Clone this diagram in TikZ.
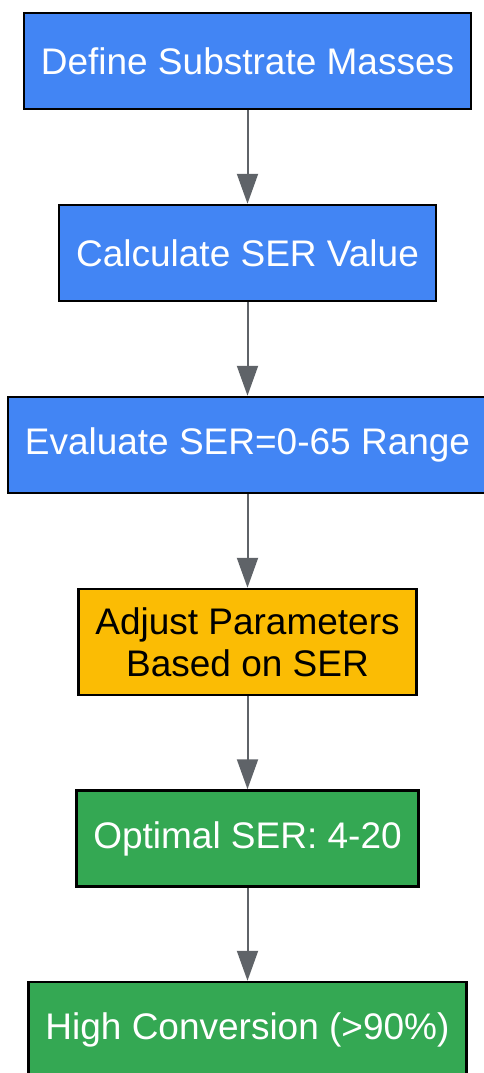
\documentclass[tikz,border=0pt]{standalone}
\usepackage{fontspec}
\setmainfont{Liberation Sans}
\usepackage{xcolor}
\usepackage{tikz}
\usetikzlibrary{arrows.meta}

\definecolor{boxblue}{HTML}{4285F4}
\definecolor{boxyellow}{HTML}{FBBC04}
\definecolor{boxgreen}{HTML}{34A853}
\definecolor{flowgray}{HTML}{5F6368}

\tikzset{
  stepbox/.style={draw=black, line width=2.5pt, inner xsep=17pt, inner ysep=0pt,
    minimum height=96pt, align=center, font=\fontsize{37}{42}\selectfont},
  flow/.style={draw=flowgray, line width=2pt, -{Triangle[length=30pt,width=21pt]}}
}

\begin{document}
\begin{tikzpicture}[x=1pt,y=1pt,yscale=-1,xscale=1]
\useasboundingbox (0,0) rectangle (483,1073);

% Text Node
\node (masses) [stepbox, fill=boxblue, text=white] at (247.5,61) {Define Substrate Masses};
% Text Node
\node (calc) [stepbox, fill=boxblue, text=white] at (247.5,253) {Calculate SER Value};
% Text Node
\node (range) [stepbox, fill=boxblue, text=white] at (247.5,445) {Evaluate SER=0-65 Range};
% Text Node
\node (adjust) [stepbox, fill=boxyellow, text=black, minimum height=106pt] at (247.5,642) {Adjust Parameters\\Based on SER};
% Text Node
\node (optimal) [stepbox, fill=boxgreen, text=white] at (247.5,838.5) {Optimal SER: 4-20};
% Text Node
\node (conversion) [stepbox, fill=boxgreen, text=white] at (247.5,1030) {High Conversion (>90\%)};

%Connectors
\draw [flow] (masses) -- (calc);
\draw [flow] (calc) -- (range);
\draw [flow] (range) -- (adjust);
\draw [flow] (adjust) -- (optimal);
\draw [flow] (optimal) -- (conversion);
\end{tikzpicture}
\end{document}
